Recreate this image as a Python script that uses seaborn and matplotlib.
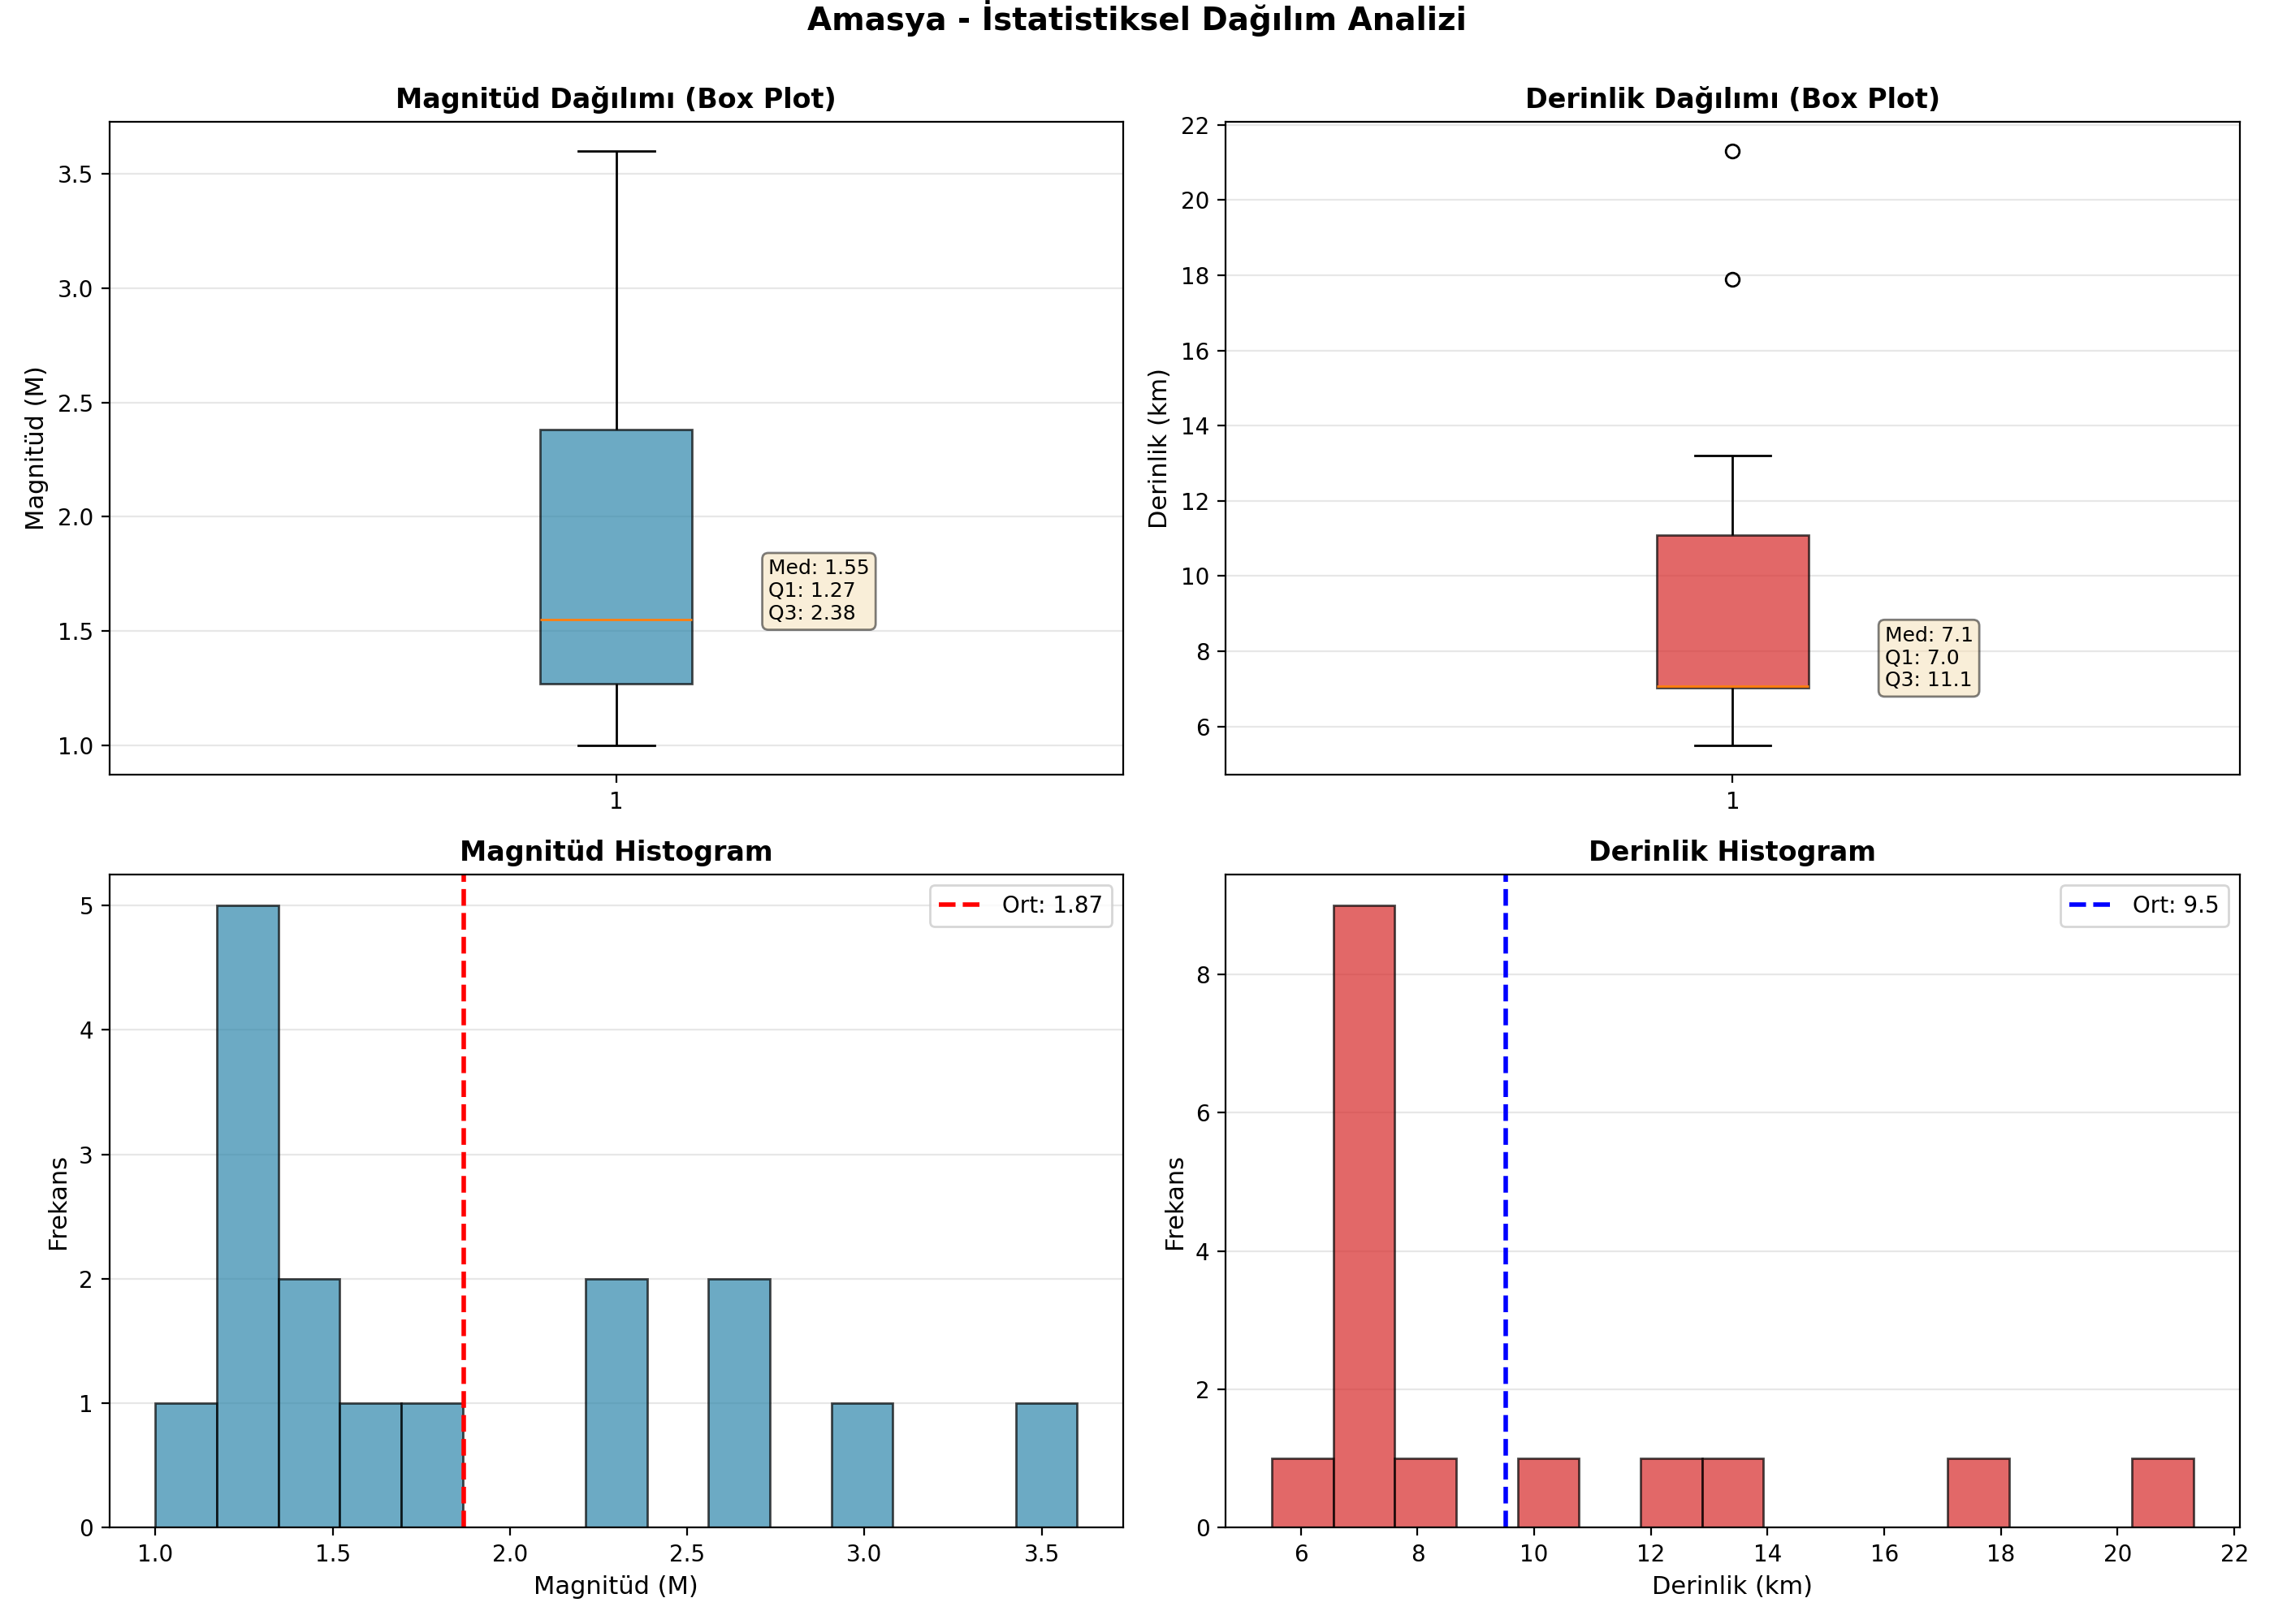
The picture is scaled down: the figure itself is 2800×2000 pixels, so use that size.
import numpy as np
import pandas as pd
import matplotlib
matplotlib.use('Agg')
import matplotlib.pyplot as plt
from matplotlib.colors import to_rgba
import seaborn as sns

# Amasya deprem verileri
magnitudes = [1.0, 1.2, 1.2, 1.27, 1.27, 1.3, 1.4, 1.5,
              1.6, 1.7, 2.3, 2.3, 2.62, 2.7, 2.95, 3.6]
depths = [5.5, 6.6, 6.9, 7.02, 7.02, 7.03, 7.05, 7.04,
          7.08, 7.5, 8.0, 10.7, 12.3, 13.2, 17.9, 21.3]

city = "Amasya"
mag_color = '#2E86AB'
depth_color = '#D62828'

df = pd.DataFrame({'magnitude': magnitudes, 'depth': depths})

fig, axes = plt.subplots(2, 2, figsize=(14, 10))
st = fig.suptitle(f'{city} - İstatistiksel Dağılım Analizi', fontsize=14, fontweight='bold')

flier = dict(marker='o', markerfacecolor='none', markeredgecolor='black', markersize=6)
edge = (0, 0, 0, 0.7)


def draw_box(ax, values, color, title, ylabel, fmt):
    sns.boxplot(y=values, ax=ax, width=0.15, color=color, saturation=1,
                linecolor='black', linewidth=1, whis=1.5,
                boxprops=dict(facecolor=to_rgba(color, 0.7), edgecolor=edge),
                medianprops=dict(color='#ff7f0e'),
                flierprops=flier, capwidths=0.075)
    ax.set_xlim(-0.5, 0.5)
    ax.set_xticks([0])
    ax.set_xticklabels(['1'])
    ax.set_ylabel(ylabel, fontsize=11)
    ax.set_title(title, fontsize=12, fontweight='bold')
    ax.grid(True, axis='y', alpha=0.3)
    ax.set_axisbelow(True)
    q1, med, q3 = np.percentile(values, [25, 50, 75])
    txt = f'Med: {med:{fmt}}\nQ1: {q1:{fmt}}\nQ3: {q3:{fmt}}'
    ax.text(0.15, med, txt, fontsize=9,
            bbox=dict(boxstyle='round', facecolor='wheat', alpha=0.5))


def draw_hist(ax, values, color, line_color, title, xlabel, fmt):
    sns.histplot(values, bins=15, ax=ax, color=color, alpha=0.7,
                 edgecolor=edge, linewidth=1)
    mean = np.mean(values)
    ax.axvline(mean, color=line_color, linestyle='--', linewidth=2,
               label=f'Ort: {mean:{fmt}}')
    ax.set_xlabel(xlabel, fontsize=11)
    ax.set_ylabel('Frekans', fontsize=11)
    ax.set_title(title, fontsize=12, fontweight='bold')
    ax.legend(loc='upper right')
    ax.grid(True, axis='y', alpha=0.3)
    ax.set_axisbelow(True)


draw_box(axes[0, 0], df['magnitude'], mag_color, 'Magnitüd Dağılımı (Box Plot)', 'Magnitüd (M)', '.2f')
draw_box(axes[0, 1], df['depth'], depth_color, 'Derinlik Dağılımı (Box Plot)', 'Derinlik (km)', '.1f')
draw_hist(axes[1, 0], df['magnitude'], mag_color, 'red', 'Magnitüd Histogram', 'Magnitüd (M)', '.2f')
draw_hist(axes[1, 1], df['depth'], depth_color, 'blue', 'Derinlik Histogram', 'Derinlik (km)', '.1f')

plt.tight_layout()
st.set_y(1.0)
plt.savefig('out.png', dpi=200)
plt.close()
